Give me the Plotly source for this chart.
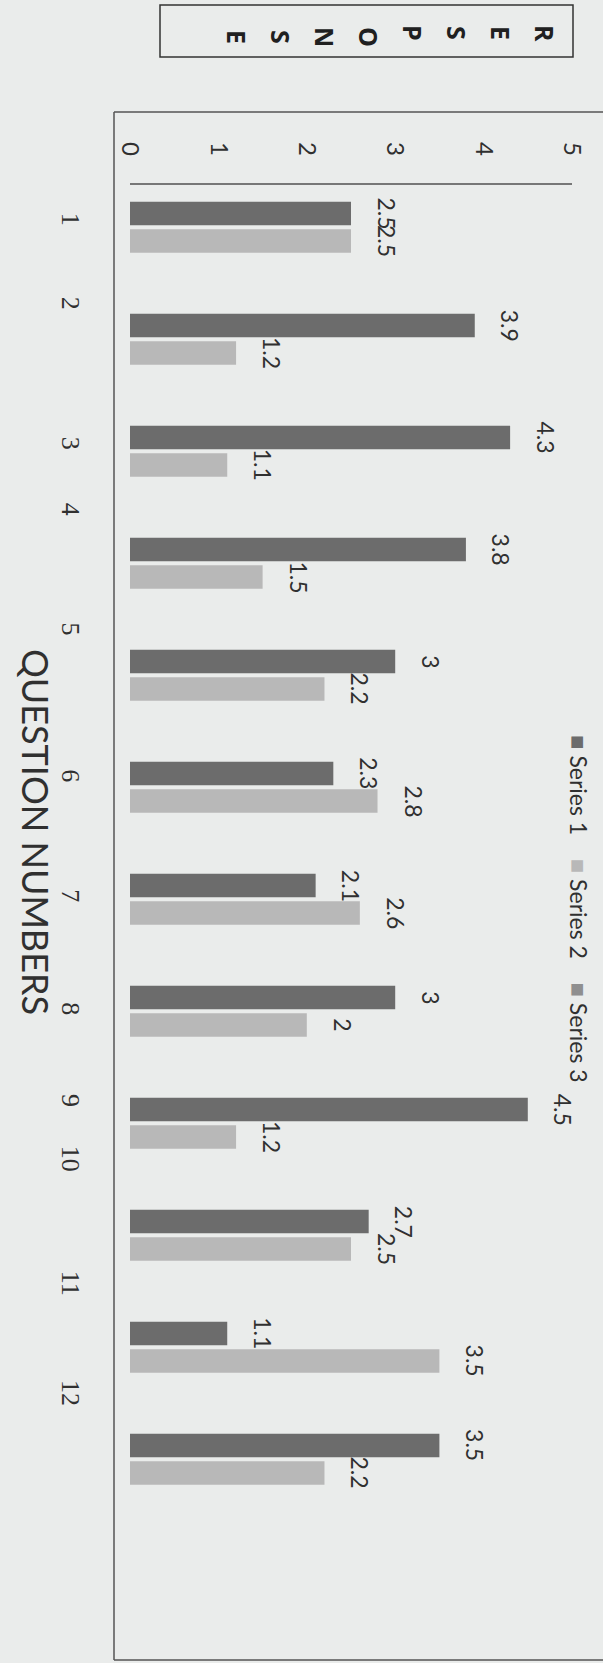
import plotly.graph_objects as go

# ---- data ----
questions = [1, 2, 3, 4, 5, 6, 7, 8, 9, 10, 11, 12]
question_labels = ["1", "2", "3", "4", "5", "6", "7", "8", "9", "10", "11", "12"]
series1 = [2.5, 3.9, 4.3, 3.8, 3, 2.3, 2.1, 3, 4.5, 2.7, 1.1, 3.5]
series2 = [2.5, 1.2, 1.1, 1.5, 2.2, 2.8, 2.6, 2, 1.2, 2.5, 3.5, 2.2]
series3 = [None, None, None, None, None, None, None, None, None, None, None, None]
series_names = ["Series 1", "Series 2", "Series 3"]
value_ticks = [0, 1, 2, 3, 4, 5]
# where the (hand placed) question-number labels sit along the category axis
question_label_pos = [0.84, 1.59, 2.84, 3.43, 4.5, 5.81, 6.88, 7.89, 8.71, 9.23, 10.34, 11.32]
y_title_letters = ["R", "E", "S", "P", "O", "N", "S", "E"]

# ---- style / layout ----
W, H = 603, 1663
ML, MR, MT, MB = 130, 31, 185, 134
PW, PH = W - ML - MR, H - MT - MB
colors = ["#6c6c6c", "#b8b8b8", "#8f8f8f"]
BG = "#eaeceb"
TXT = "#303030"
SLOT = 0.2455
BAR_W = 0.21


def px_x(px):
    return (px - ML) / PW


def px_y(py):
    return 1 - (py - MT) / PH


fig = go.Figure()
all_series = [series1, series2, series3]
for k, (name, vals, col) in enumerate(zip(series_names, all_series, colors)):
    fig.add_trace(go.Bar(
        x=vals, y=questions, orientation="h", name=name,
        width=BAR_W, offset=(k - 1) * SLOT - BAR_W / 2,
        marker=dict(color=col, line=dict(width=0)),
        showlegend=False, hoverinfo="skip",
    ))
    for q, v in zip(questions, vals):
        if v is None:
            continue
        fig.add_annotation(
            x=v, y=q + (k - 1) * SLOT, xref="x", yref="y",
            text=f"{v:g}", textangle=90, showarrow=False,
            xanchor="left", yanchor="middle", xshift=20,
            font=dict(family="Lato", size=23, color=TXT),
        )

# chart frame (left, top and bottom edges; the right edge is off the page)
frame = dict(color="#555555", width=1.5)
fig.add_shape(type="line", xref="paper", yref="paper",
              x0=px_x(114), x1=px_x(114), y0=px_y(1660), y1=px_y(112), line=frame)
fig.add_shape(type="line", xref="paper", yref="paper",
              x0=px_x(114), x1=px_x(W + 5), y0=px_y(112), y1=px_y(112), line=frame)
fig.add_shape(type="line", xref="paper", yref="paper",
              x0=px_x(114), x1=px_x(W + 5), y0=px_y(1660), y1=px_y(1660), line=frame)

# RESPONSE box
fig.add_shape(type="rect", xref="paper", yref="paper",
              x0=px_x(160), x1=px_x(573), y0=px_y(57), y1=px_y(5),
              line=dict(color="#333333", width=1.5))
for i, ch in enumerate(y_title_letters):
    fig.add_annotation(
        x=px_x(545 - i * 44), y=px_y(33 + (i >= 4) * 4), xref="paper", yref="paper",
        xanchor="center", yanchor="middle",
        text=ch, textangle=90, showarrow=False,
        font=dict(family="Open Sans", size=25, color="#202020", weight="bold"),
    )

# x-axis (category) title
fig.add_annotation(
    x=px_x(36), y=px_y(832), xref="paper", yref="paper",
    xanchor="center", yanchor="middle",
    text="QUESTION NUMBERS", textangle=90, showarrow=False,
    font=dict(family="Lato", size=36, color=TXT),
)

# legend (rotated like the rest of the chart)
sp = "\u00a0" * 4
legend_parts = []
for name, col in zip(series_names, colors):
    legend_parts.append(f"<span style='font-size:24px;color:{col}'>■</span> {name}")
fig.add_annotation(
    x=px_x(580), y=px_y(909), xref="paper", yref="paper",
    xanchor="center", yanchor="middle",
    text=sp.join(legend_parts), textangle=90, showarrow=False,
    font=dict(family="Lato", size=23, color=TXT),
)

fig.update_layout(
    width=W, height=H,
    margin=dict(l=ML, r=MR, t=MT, b=MB, pad=0),
    paper_bgcolor=BG, plot_bgcolor=BG,
    barmode="overlay",
    xaxis=dict(
        range=[0, 5], side="top", tickvals=value_ticks, tickangle=90,
        showline=True, linecolor="#777777", linewidth=1.5,
        showgrid=False, zeroline=False, ticks="", ticklabelstandoff=19,
        tickfont=dict(family="Lato", size=24, color=TXT), automargin=False,
    ),
    yaxis=dict(
        range=[12.5, 0.5], tickvals=question_label_pos, ticktext=question_labels,
        tickangle=90, showline=False, showgrid=False, zeroline=False, ticks="",
        ticklabelstandoff=41,
        tickfont=dict(family="Liberation Serif", size=26, color=TXT), automargin=False,
    ),
)

fig.write_html("out.html", config={"displayModeBar": False},
               post_script="document.body.style.margin='0px';")
